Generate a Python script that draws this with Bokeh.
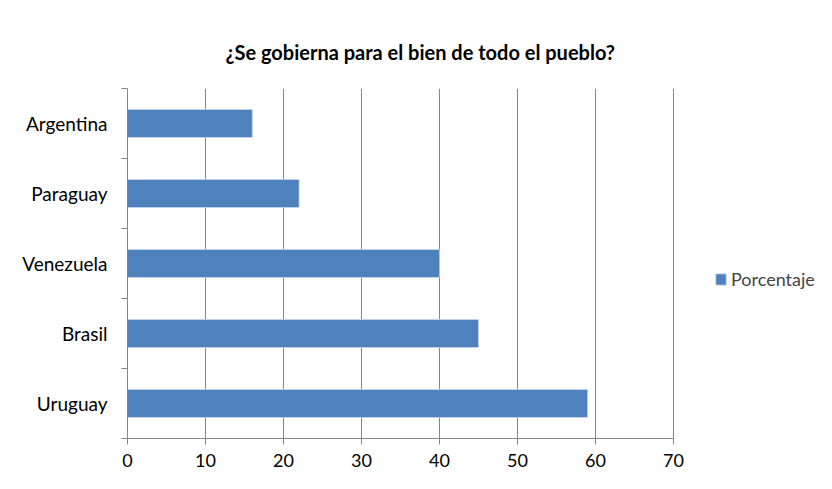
from bokeh.plotting import figure
from bokeh.models import Range1d, FixedTicker, Legend, LegendItem
from bokeh.embed import file_html
from bokeh.resources import INLINE

# data
paises = ["Uruguay", "Brasil", "Venezuela", "Paraguay", "Argentina"]
porcentaje = [59, 45, 40, 22, 16]
x_ticks = [0, 10, 20, 30, 40, 50, 60, 70]
titulo = "¿Se gobierna para el bien de todo el pueblo?"
serie = "Porcentaje"

FONT = "Lato"
GRAY = "#868686"

pos = [i + 0.5 for i in range(len(paises))]

# the frame extends past 70 so that the legend (drawn inside the frame) fits
LEFT, WIDTH, AXIS_PX = 127, 816, 546
x_end = 70 * (WIDTH - LEFT) / AXIS_PX

p = figure(width=WIDTH, height=473, output_backend="svg", toolbar_location=None,
           x_range=Range1d(0, x_end), y_range=Range1d(0, len(paises)),
           min_border_left=LEFT, min_border_right=0, min_border_top=88,
           min_border_bottom=35)

p.title.text = titulo
p.title.align = "left"
p.title.offset = 98
p.title.standoff = 50
p.title.text_font = FONT
p.title.text_font_size = "20px"
p.title.text_font_style = "bold"
p.title.text_color = "#000000"

r = p.hbar(y=pos, right=porcentaje, left=0, height=0.4,
           fill_color="#4F81BD", line_color="#c8d6ea", line_width=0.8)

p.outline_line_color = None
p.ygrid.grid_line_color = None
p.xgrid.grid_line_color = GRAY
p.xgrid.grid_line_width = 1
p.xgrid.ticker = FixedTicker(ticks=x_ticks)

xa = p.xaxis[0]
xa.ticker = FixedTicker(ticks=x_ticks)
xa.bounds = (0, 70)
xa.axis_line_color = GRAY
xa.major_tick_line_color = GRAY
xa.major_tick_in = 0
xa.major_tick_out = 6
xa.minor_tick_line_color = None
xa.major_label_text_font = FONT
xa.major_label_text_font_size = "18px"
xa.major_label_text_color = "#000000"
xa.major_label_standoff = 9

ya = p.yaxis[0]
ya.ticker = FixedTicker(ticks=pos, minor_ticks=list(range(len(paises) + 1)))
ya.major_label_overrides = {v: n for v, n in zip(pos, paises)}
ya.axis_line_color = GRAY
ya.major_tick_line_color = None
ya.minor_tick_line_color = GRAY
ya.minor_tick_in = 0
ya.minor_tick_out = 6
ya.major_label_text_font = FONT
ya.major_label_text_font_size = "19px"
ya.major_label_text_color = "#000000"
ya.major_label_standoff = 14

legend = Legend(items=[LegendItem(label=serie, renderers=[r])],
                location=(587, 148), padding=0, margin=0, border_line_color=None,
                background_fill_alpha=0, glyph_width=13, glyph_height=14,
                label_text_font=FONT, label_text_font_size="18px", label_standoff=4)
p.add_layout(legend, "center")

open("out.html", "w").write(file_html(p, INLINE))
